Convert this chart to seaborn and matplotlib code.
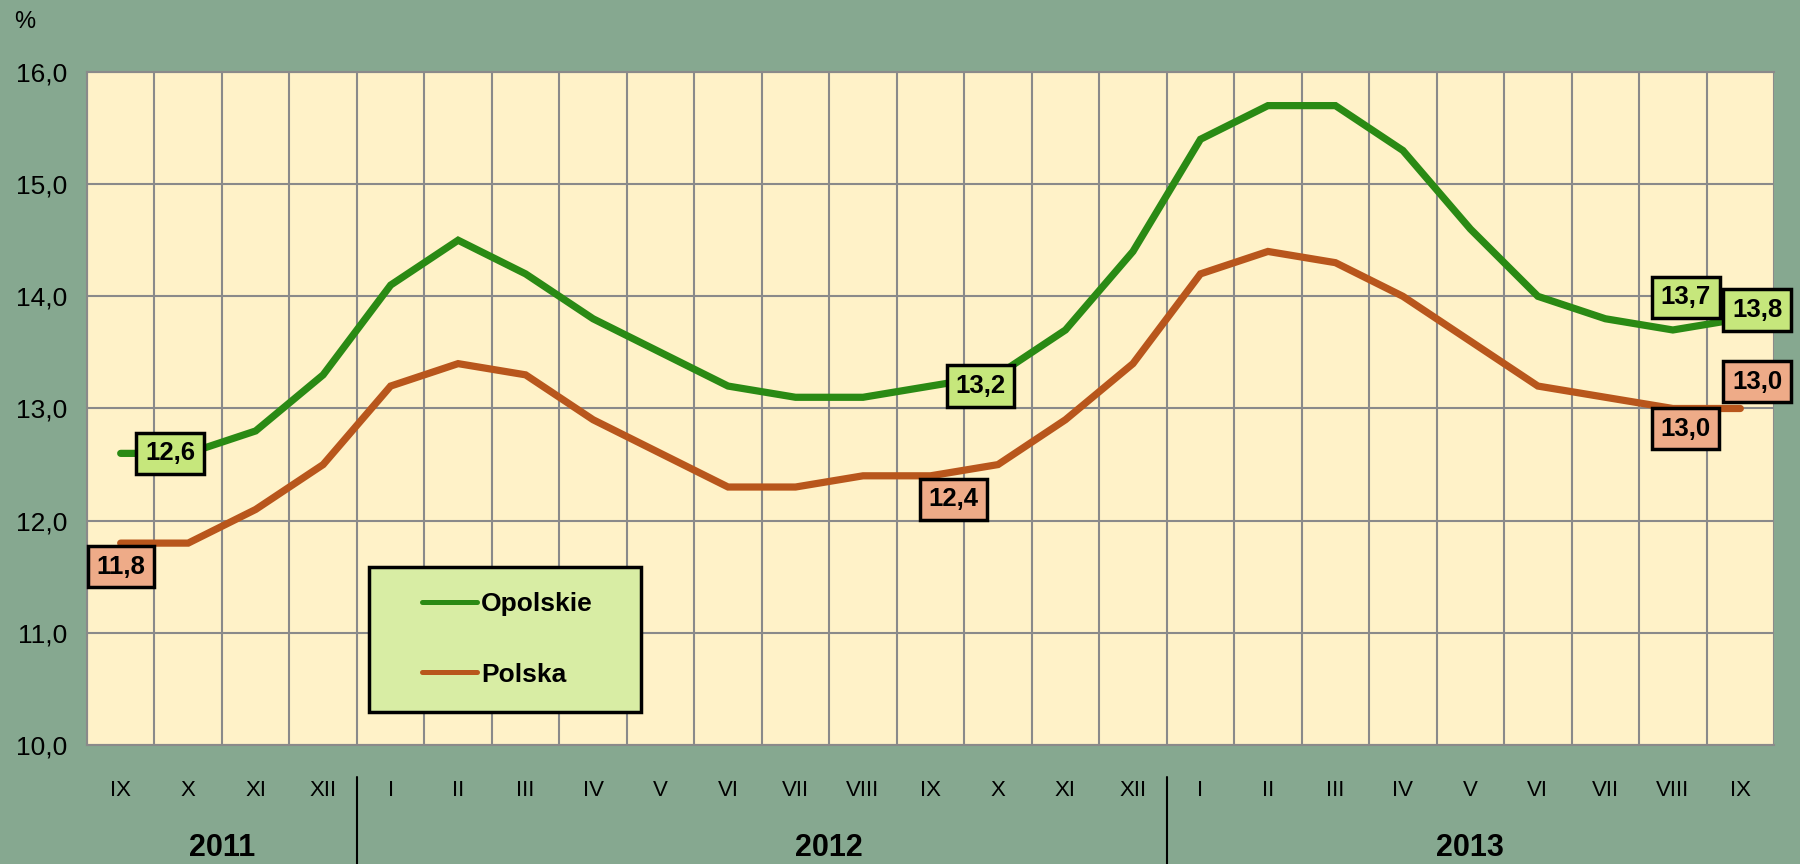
import pandas as pd
import matplotlib.pyplot as plt
import matplotlib.transforms as mtransforms
from matplotlib.lines import Line2D
from matplotlib.legend_handler import HandlerTuple
from matplotlib.ticker import FixedLocator, FuncFormatter
import seaborn as sns

# months from IX 2011 to IX 2013
months = ['IX', 'X', 'XI', 'XII',
          'I', 'II', 'III', 'IV', 'V', 'VI', 'VII', 'VIII', 'IX', 'X', 'XI', 'XII',
          'I', 'II', 'III', 'IV', 'V', 'VI', 'VII', 'VIII', 'IX']
years = ['2011', '2012', '2013']
opolskie = [12.6, 12.6, 12.8, 13.3,
            14.1, 14.5, 14.2, 13.8, 13.5, 13.2, 13.1, 13.1, 13.2, 13.3, 13.7, 14.4,
            15.4, 15.7, 15.7, 15.3, 14.6, 14.0, 13.8, 13.7, 13.8]
polska = [11.8, 11.8, 12.1, 12.5,
          13.2, 13.4, 13.3, 12.9, 12.6, 12.3, 12.3, 12.4, 12.4, 12.5, 12.9, 13.4,
          14.2, 14.4, 14.3, 14.0, 13.6, 13.2, 13.1, 13.0, 13.0]

# labelled values: (month index, label x, label y)
opolskie_labels = [(0, 0.73, 12.60), (12, 12.74, 13.20), (23, 23.19, 13.99), (24, 24.25, 13.88)]
polska_labels = [(0, 0.0, 11.59), (12, 12.34, 12.19), (23, 23.19, 12.82), (24, 24.25, 13.24)]

BG = '#86a890'
PLOT_BG = '#fff2c8'
GRID = '#8a8a8a'
GREEN = '#2a8a14'
ORANGE = '#b8561c'
GREEN_BOX = '#c6e77c'
ORANGE_BOX = '#eeab88'

sns.set_style("white")
plt.rcParams['font.family'] = ['Liberation Sans', 'DejaVu Sans']
plt.rcParams['text.color'] = 'black'
plt.rcParams['xtick.color'] = 'black'
plt.rcParams['ytick.color'] = 'black'

idx = list(range(len(months)))
df = pd.DataFrame({
    'idx': idx * 2,
    'value': opolskie + polska,
    'series': ['Opolskie'] * len(idx) + ['Polska'] * len(idx),
})

fig = plt.figure(figsize=(18, 8.64), dpi=100, facecolor=BG)
ax = fig.add_axes([0.0483, 0.1377, 0.9373, 0.779])
ax.set_facecolor(PLOT_BG)

sns.lineplot(data=df, x='idx', y='value', hue='series',
             palette={'Opolskie': GREEN, 'Polska': ORANGE},
             linewidth=5.2, ax=ax, legend=False, zorder=3)
for line in ax.lines:
    line.set_solid_capstyle('round')
    line.set_solid_joinstyle('miter')

ax.set_xlim(-0.5, len(months) - 0.5)
ax.set_ylim(10, 16)

# gridlines between months, ticks at boundaries
ax.xaxis.set_major_locator(FixedLocator(idx))
ax.set_xticklabels(months, fontsize=16)
ax.xaxis.set_minor_locator(FixedLocator([i - 0.5 for i in range(len(months) + 1)]))
ax.tick_params(axis='x', which='major', length=0, pad=25, labelcolor='black')
ax.tick_params(axis='x', which='minor', length=8, width=1.5, color=GRID, direction='out')
ax.yaxis.set_major_locator(FixedLocator([10, 11, 12, 13, 14, 15, 16]))
ax.yaxis.set_major_formatter(FuncFormatter(lambda v, p: f"{v:.1f}".replace('.', ',')))
ax.tick_params(axis='y', length=8, width=1.5, color=GRID, labelcolor='black',
               labelsize=19, pad=6, direction='out')
ax.grid(True, which='minor', axis='x', color=GRID, linewidth=1.5)
ax.grid(True, which='major', axis='y', color=GRID, linewidth=1.5)
ax.grid(False, which='major', axis='x')
ax.set_axisbelow(True)
for side in ['top', 'bottom', 'left']:
    ax.spines[side].set_color(GRID)
    ax.spines[side].set_linewidth(1.5)
ax.spines['right'].set_visible(False)
ax.set_xlabel('')
ax.set_ylabel('')


# value boxes
def add_labels(labels, values, color):
    for i, lx, ly in labels:
        ax.text(lx, ly, f"{values[i]:.1f}".replace('.', ','), ha='center', va='center',
                fontsize=18.5, fontweight='bold', color='black', zorder=5,
                bbox=dict(boxstyle='square,pad=0.34', facecolor=color,
                          edgecolor='black', linewidth=2.5))


add_labels(opolskie_labels, opolskie, GREEN_BOX)
add_labels(polska_labels, polska, ORANGE_BOX)

# year separators and year labels
trans = mtransforms.blended_transform_factory(ax.transData, ax.transAxes)
year_start = [i for i, m in enumerate(months) if m == 'I']
for s in year_start:
    ax.plot([s - 0.5, s - 0.5], [-0.048, -0.2], transform=trans, color='black',
            linewidth=1.5, clip_on=False)
year_pos = [1.5, 10.5, 20.0]
for y, xp in zip(years, year_pos):
    ax.text(xp, -0.153, y, transform=trans, ha='center', va='center',
            fontsize=22, fontweight='bold', color='black')

fig.text(0.008, 0.975, '%', fontsize=17, ha='left', va='center', color='black')

# legend: a blank third in front of the line shifts the handle to the right
blank = Line2D([], [], color='none')
handles = []
for c in [GREEN, ORANGE]:
    seg = Line2D([], [], color=c, linewidth=3.6, solid_capstyle='round')
    handles.append((blank, seg, seg))
leg = ax.legend(handles, ['Opolskie', 'Polska'],
                handler_map={tuple: HandlerTuple(ndivide=None, pad=0)},
                loc='lower left', bbox_to_anchor=(0.167, 0.049, 0.1612, 0.2), mode='expand',
                frameon=True, fancybox=False, facecolor='#d8eda4', edgecolor='black',
                prop={'size': 19, 'weight': 'bold'}, handlelength=3.15, handletextpad=0.15,
                labelspacing=1.77, borderpad=0.96, borderaxespad=0)
leg.get_frame().set_linewidth(2.5)
leg.get_frame().set_alpha(1)
leg.set_zorder(6)

fig.savefig('out.png', dpi=100, facecolor=BG)
